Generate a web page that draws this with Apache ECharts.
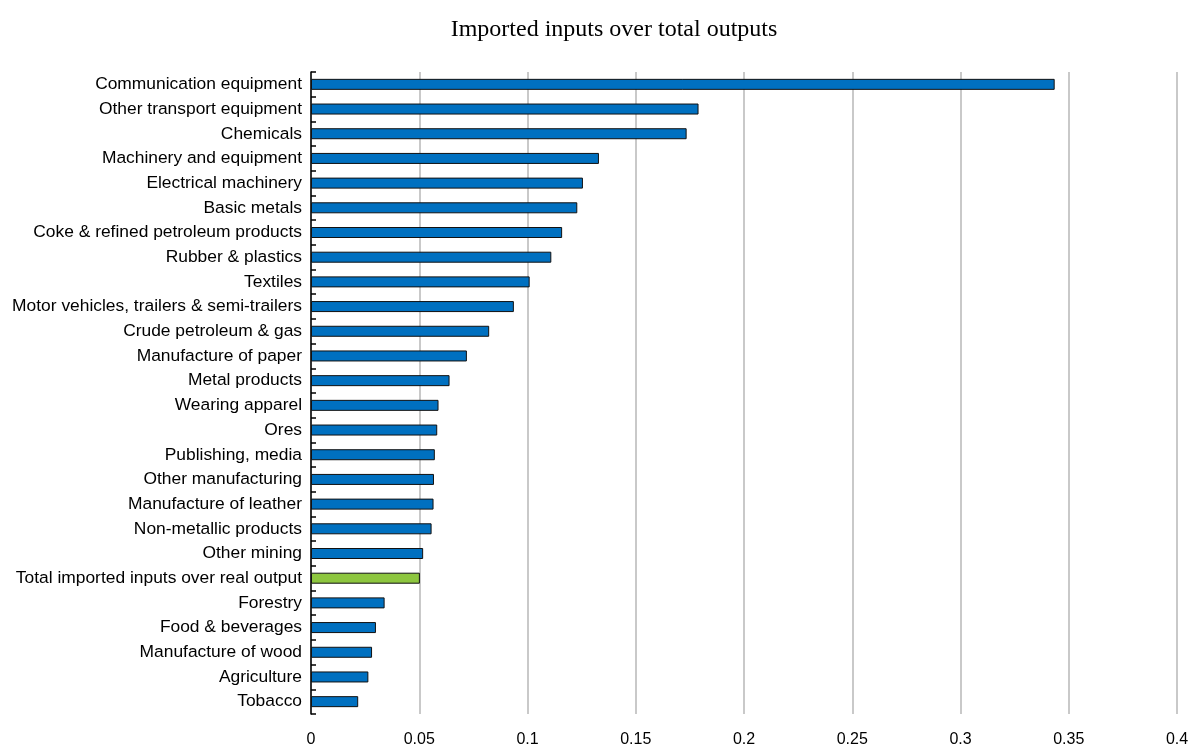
<!DOCTYPE html>
<html>
<head>
<meta charset="utf-8">
<script src="https://cdn.jsdelivr.net/npm/echarts@6/dist/echarts.min.js"></script>
<style>
  html, body { margin: 0; padding: 0; background: #fff; }
  #chart { width: 1192px; height: 748px; }
</style>
</head>
<body>
<div id="chart"></div>
<script>
// Sectors, ordered from largest share of imported inputs to smallest
const categories = [
  'Communication equipment',
  'Other transport equipment',
  'Chemicals',
  'Machinery and equipment',
  'Electrical machinery',
  'Basic metals',
  'Coke & refined petroleum products',
  'Rubber & plastics',
  'Textiles',
  'Motor vehicles, trailers & semi-trailers',
  'Crude petroleum & gas',
  'Manufacture of paper',
  'Metal products',
  'Wearing apparel',
  'Ores',
  'Publishing, media',
  'Other manufacturing',
  'Manufacture of leather',
  'Non-metallic products',
  'Other mining',
  'Total imported inputs over real output',
  'Forestry',
  'Food & beverages',
  'Manufacture of wood',
  'Agriculture',
  'Tobacco'
];

// Imported inputs over total outputs, per sector
const values = [
  0.3435, 0.179, 0.1735, 0.133, 0.1256, 0.123, 0.116, 0.111, 0.101, 0.0937,
  0.0823, 0.072, 0.064, 0.0589, 0.0583, 0.0572, 0.0568, 0.0566, 0.0557, 0.0518,
  0.0503, 0.034, 0.030, 0.0282, 0.0265, 0.0218
];

// The economy-wide total is highlighted
const totalLabel = 'Total imported inputs over real output';

const xTicks = [0, 0.05, 0.1, 0.15, 0.2, 0.25, 0.3, 0.35, 0.4];

const chart = echarts.init(document.getElementById('chart'));

chart.setOption({
  animation: false,
  title: {
    text: 'Imported inputs over total outputs',
    left: 609,
    textAlign: 'center',
    top: 13,
    textStyle: {
      fontFamily: 'Liberation Serif',
      fontSize: 24,
      fontWeight: 'normal',
      color: '#000'
    }
  },
  grid: { left: 311, right: 15, top: 72, bottom: 34 },
  xAxis: {
    type: 'value',
    min: xTicks[0],
    max: xTicks[xTicks.length - 1],
    interval: 0.05,
    axisLine: { show: false },
    axisTick: { show: false },
    splitLine: { show: true, lineStyle: { color: '#c9c9c9', width: 2 } },
    axisLabel: {
      margin: 18,
      fontFamily: 'Liberation Sans',
      fontSize: 16,
      color: '#000',
      formatter: v => String(Math.round(v * 100) / 100)
    }
  },
  yAxis: {
    type: 'category',
    data: categories,
    inverse: true,
    axisLine: { show: true, lineStyle: { color: '#000', width: 1.5 } },
    axisTick: { show: true, inside: true, length: 5, lineStyle: { color: '#000', width: 1.5 } },
    axisLabel: {
      margin: 9,
      fontFamily: 'Liberation Sans',
      fontSize: 17.4,
      color: '#000'
    },
    splitLine: { show: false }
  },
  series: [{
    type: 'bar',
    barWidth: 11,
    data: values.map((v, i) => ({
      value: v,
      itemStyle: {
        color: categories[i] === totalLabel ? '#8dc63f' : '#0070c0'
      }
    })),
    itemStyle: { borderColor: '#111', borderWidth: 1 }
  }]
});
</script>
</body>
</html>
